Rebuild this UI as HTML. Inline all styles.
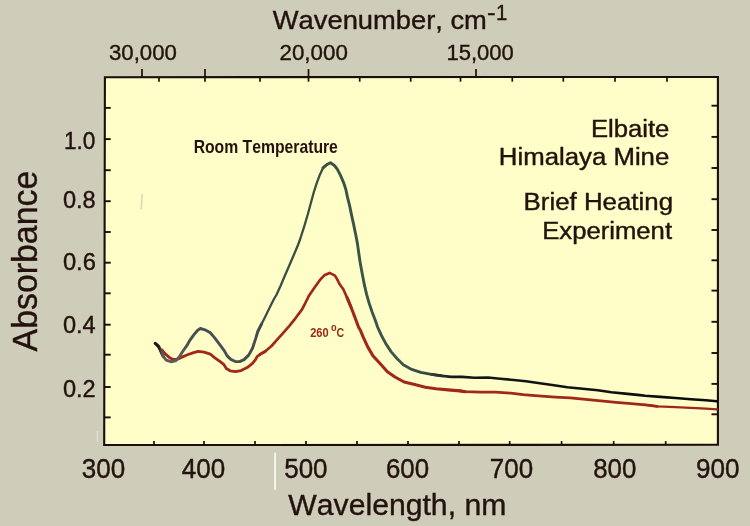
<!DOCTYPE html>
<html lang="en"><head><meta charset="utf-8"><title>Elbaite, Himalaya Mine - Brief Heating Experiment</title>
<style>
html,body{margin:0;padding:0;background:#cecdba;}
body{width:750px;height:526px;overflow:hidden;}
svg{display:block;}
text{font-family:"Liberation Sans",Arial,Helvetica,sans-serif;fill:#23120d;stroke:#23120d;stroke-width:0.4px;font-kerning:none;}
.b{font-weight:bold;stroke:none;}
</style></head><body>
<svg width="750" height="526" viewBox="0 0 750 526">
<rect x="0" y="0" width="750" height="526" fill="#cecdba"/>
<polygon points="104.9,77.2 717.9,77.0 717.9,444.8 104.2,445.0" fill="#fffec8" stroke="#190e08" stroke-width="2.1" stroke-linejoin="miter"/>
<g stroke="#190e08" stroke-width="1.7" fill="none">
<line x1="154" y1="444.9" x2="154" y2="441.1"/>
<line x1="204" y1="444.9" x2="204" y2="441.1"/>
<line x1="255" y1="444.9" x2="255" y2="441.1"/>
<line x1="306" y1="444.9" x2="306" y2="441.1"/>
<line x1="357" y1="444.9" x2="357" y2="441.1"/>
<line x1="408" y1="444.9" x2="408" y2="441.1"/>
<line x1="459" y1="444.9" x2="459" y2="441.1"/>
<line x1="509.7" y1="444.9" x2="509.7" y2="441.1"/>
<line x1="561.6" y1="444.9" x2="561.6" y2="441.1"/>
<line x1="613.7" y1="444.9" x2="613.7" y2="441.1"/>
<line x1="665.7" y1="444.9" x2="665.7" y2="441.1"/>
<line x1="159" y1="77.1" x2="159" y2="81.7"/>
<line x1="205" y1="77.1" x2="205" y2="81.7"/>
<line x1="260" y1="77.1" x2="260" y2="81.7"/>
<line x1="308.5" y1="77.1" x2="308.5" y2="81.7"/>
<line x1="359.7" y1="77.1" x2="359.7" y2="81.7"/>
<line x1="410.7" y1="77.1" x2="410.7" y2="81.7"/>
<line x1="460.5" y1="77.1" x2="460.5" y2="81.7"/>
<line x1="512.3" y1="77.1" x2="512.3" y2="81.7"/>
<line x1="563.3" y1="77.1" x2="563.3" y2="81.7"/>
<line x1="615" y1="77.1" x2="615" y2="81.7"/>
<line x1="667" y1="77.1" x2="667" y2="81.7"/>
<line x1="142" y1="77.1" x2="142" y2="69.1"/>
<line x1="205" y1="77.1" x2="205" y2="69.1"/>
<line x1="308.5" y1="77.1" x2="308.5" y2="69.1"/>
<line x1="476" y1="77.1" x2="476" y2="69.1"/>
<line x1="104.6" y1="107.9" x2="110.7" y2="107.9" stroke-width="1.9"/>
<line x1="104.6" y1="139.1" x2="110.7" y2="139.1" stroke-width="1.9"/>
<line x1="104.6" y1="170.2" x2="110.7" y2="170.2" stroke-width="1.9"/>
<line x1="104.6" y1="201.2" x2="110.7" y2="201.2" stroke-width="1.9"/>
<line x1="104.6" y1="232" x2="110.7" y2="232" stroke-width="1.9"/>
<line x1="104.6" y1="262.7" x2="110.7" y2="262.7" stroke-width="1.9"/>
<line x1="104.6" y1="293.3" x2="110.7" y2="293.3" stroke-width="1.9"/>
<line x1="104.6" y1="324.7" x2="110.7" y2="324.7" stroke-width="1.9"/>
<line x1="104.6" y1="354.7" x2="110.7" y2="354.7" stroke-width="1.9"/>
<line x1="104.6" y1="387" x2="110.7" y2="387" stroke-width="1.9"/>
<line x1="104.6" y1="417.4" x2="110.7" y2="417.4" stroke-width="1.9"/>
<line x1="717.9" y1="105.7" x2="711.5" y2="105.7" stroke-width="1.9"/>
<line x1="717.9" y1="136.9" x2="711.5" y2="136.9" stroke-width="1.9"/>
<line x1="717.9" y1="168" x2="711.5" y2="168" stroke-width="1.9"/>
<line x1="717.9" y1="199.2" x2="711.5" y2="199.2" stroke-width="1.9"/>
<line x1="717.9" y1="230" x2="711.5" y2="230" stroke-width="1.9"/>
<line x1="717.9" y1="260.3" x2="711.5" y2="260.3" stroke-width="1.9"/>
<line x1="717.9" y1="290.6" x2="711.5" y2="290.6" stroke-width="1.9"/>
<line x1="717.9" y1="321.8" x2="711.5" y2="321.8" stroke-width="1.9"/>
<line x1="717.9" y1="353" x2="711.5" y2="353" stroke-width="1.9"/>
<line x1="717.9" y1="383.9" x2="711.5" y2="383.9" stroke-width="1.9"/>
<line x1="717.9" y1="414.3" x2="711.5" y2="414.3" stroke-width="1.9"/>
</g>
<defs><linearGradient id="kg" gradientUnits="userSpaceOnUse" x1="150" y1="0" x2="720" y2="0">
<stop offset="0.0070" stop-color="#161616"/>
<stop offset="0.0158" stop-color="#1c1c1c"/>
<stop offset="0.0211" stop-color="#5a5b5a"/>
<stop offset="0.0526" stop-color="#595c5c"/>
<stop offset="0.0702" stop-color="#464d50"/>
<stop offset="0.1404" stop-color="#4a5154"/>
<stop offset="0.1965" stop-color="#3e4b4d"/>
<stop offset="0.2632" stop-color="#37503f"/>
<stop offset="0.3684" stop-color="#3a5446"/>
<stop offset="0.4386" stop-color="#40564e"/>
<stop offset="0.4912" stop-color="#364340"/>
<stop offset="0.5351" stop-color="#151817"/>
<stop offset="1.0000" stop-color="#0b0a0a"/>
</linearGradient></defs>
<path d="M161.7,349.8 L165.5,354.1 L169.3,357.4 L173.1,359.4 L176.9,359.4 L181.4,357.4 L187.5,354.8 L193.6,352.6 L198.2,351.3 L204.2,352.2 L210.3,354.1 L214.9,357.9 L220.2,361.7 L224.0,364.7 L226.3,368.5 L230.1,370.8 L235.4,371.7 L241.1,370.6 L247.2,367.6 L252.5,363.4 L255.5,359.6 L257.1,356.6 L260.1,354.3 L265.4,351.3" fill="none" stroke="#a02819" stroke-width="2.8" stroke-linejoin="round" stroke-linecap="round"/>
<path d="M260.1,354.3 L265.4,351.3 L271.5,346.0 L277.6,339.1 L283.7,332.3 L289.8,325.4 L295.8,317.8 L301.9,309.6 L304.6,304.5 L309.1,295.4 L314.4,287.8 L319.8,280.2 L324.3,275.3 L329.6,272.9 L335.0,275.6 L337.2,279.4 L339.5,284.0 L343.3,289.3 L347.1,297.7 L350.9,306.8" fill="none" stroke="#a02819" stroke-width="2.7" stroke-linejoin="round" stroke-linecap="round"/>
<path d="M347.1,297.7 L350.9,306.8 L354.7,316.7 L358.5,327.0 L360.5,330.5 L363.0,336.7 L367.6,346.6 L372.9,355.7 L379.8,363.3 L387.4,371.7 L395.0,377.0 L404.1,382.0 L414.7,384.6 L425.3,387.3 L436.0,388.8 L448.1,389.9 L460.0,390.9 L465.2,391.7" fill="none" stroke="#a02819" stroke-width="3.1" stroke-linejoin="round" stroke-linecap="round"/>
<path d="M460.0,390.9 L465.2,391.7 L480.4,392.1 L495.6,392.1 L510.8,393.2 L523.0,394.7 L535.1,395.7 L555.2,397.1 L570.4,397.9 L585.6,399.4 L600.8,400.9 L616.0,402.4 L631.2,403.7 L645.2,404.8 L657.4,406.4" fill="none" stroke="#a02819" stroke-width="2.7" stroke-linejoin="round" stroke-linecap="round"/>
<path d="M645.2,404.8 L657.4,406.4 L675.6,407.1 L690.8,407.9 L706.0,408.6 L716.9,409.4" fill="none" stroke="#a02819" stroke-width="2.1" stroke-linejoin="round" stroke-linecap="round"/>
<path d="M155.3,343.4 L158.6,346.5 L160.9,351.0 L163.2,356.4" fill="none" stroke="url(#kg)" stroke-width="3.3" stroke-linejoin="round" stroke-linecap="round"/>
<path d="M160.9,351.0 L163.2,356.4 L166.2,360.2 L170.8,361.7 L175.4,360.9 L179.2,357.1 L183.0,351.0 L186.8,345.7 L189.8,340.4 L193.6,335.1 L197.4,330.5 L200.4,328.5 L205.0,329.8 L210.3,332.8 L214.9,338.1 L219.4,344.2 L224.0,350.3 L227.0,355.6 L230.8,359.4 L235.4,361.5 L239.6,361.6 L244.1,359.6 L248.7,355.1 L252.5,348.2 L255.5,339.1 L257.8,331.5 L261.6,323.9" fill="none" stroke="url(#kg)" stroke-width="2.9" stroke-linejoin="round" stroke-linecap="round"/>
<path d="M257.8,331.5 L261.6,323.9 L266.2,314.8 L270.7,305.6 L274.5,298.0 L276.4,295.0 L280.5,286.0 L284.5,276.5 L289.5,265.0 L294.0,254.5 L298.0,245.0 L300.2,239.0 L304.0,227.2 L307.8,214.3 L310.8,203.2 L313.9,191.9 L316.9,182.7 L320.0,174.4 L323.0,167.9 L326.8,164.6" fill="none" stroke="url(#kg)" stroke-width="2.3" stroke-linejoin="round" stroke-linecap="round"/>
<path d="M323.0,167.9 L326.8,164.6 L330.4,162.8 L334.4,165.5 L337.4,169.4 L340.5,175.4 L343.5,182.3 L345.8,189.2 L347.3,196.4 L349.6,205.6 L351.4,214.4 L353.4,223.4 L354.9,230.8 L356.2,237.0 L357.5,244.1 L359.0,254.8 L360.5,264.6 L362.4,274.5 L364.3,284.4 L366.6,294.3 L369.2,303.4 L372.2,312.3 L375.2,320.0 L377.5,326.8 L381.3,335.2 L385.8,343.6 L391.2,351.9 L397.2,358.8 L403.3,364.8 L411.7,369.4 L420.8,372.4 L431.4,374.4 L442.1,375.9" fill="none" stroke="url(#kg)" stroke-width="2.9" stroke-linejoin="round" stroke-linecap="round"/>
<path d="M431.4,374.4 L442.1,375.9 L451.2,376.9 L462.2,376.9 L474.3,377.7 L488.0,377.5 L500.2,378.8 L513.8,380.0 L526.0,381.3 L538.1,383.0 L552.2,385.0 L567.4,387.2 L582.6,388.8 L597.8,390.3 L611.4,392.2 L625.1,393.6 L640.0,395.1 L645.2,395.7 L660.4,396.9 L675.6,398.0 L690.8,399.2 L706.0,400.3 L716.9,401.3" fill="none" stroke="url(#kg)" stroke-width="2.6" stroke-linejoin="round" stroke-linecap="round"/>
<line x1="275.1" y1="452.5" x2="275.1" y2="489.7" stroke="#faf9f0" stroke-width="1.8"/>
<line x1="142.2" y1="194.5" x2="141.2" y2="209" stroke="#dddbbf" stroke-width="1.7" stroke-linecap="round"/>
<line x1="97.3" y1="431" x2="97.3" y2="441.5" stroke="#e6e5d6" stroke-width="1"/>
<text><tspan x="272.85" y="29.1" font-size="26.43" textLength="214.01" lengthAdjust="spacingAndGlyphs">Wavenumber, cm</tspan><tspan x="487.0" y="20.4" font-size="22.43" textLength="8.56" lengthAdjust="spacingAndGlyphs">-</tspan><tspan x="496.05" y="20.4" font-size="22.43" textLength="11.3" lengthAdjust="spacingAndGlyphs">1</tspan></text>
<text x="108.95" y="59.58" font-size="22.88" textLength="67.92" lengthAdjust="spacingAndGlyphs">30,000</text>
<text x="279.55" y="59.58" font-size="22.88" textLength="68.24" lengthAdjust="spacingAndGlyphs">20,000</text>
<text x="446.55" y="59.58" font-size="22.88" textLength="67.27" lengthAdjust="spacingAndGlyphs">15,000</text>
<text x="64.0" y="148.57" font-size="23.45" textLength="31.45" lengthAdjust="spacingAndGlyphs">1.0</text>
<text x="62.9" y="207.57" font-size="23.45" textLength="32.77" lengthAdjust="spacingAndGlyphs">0.8</text>
<text x="62.9" y="269.87" font-size="23.45" textLength="32.99" lengthAdjust="spacingAndGlyphs">0.6</text>
<text x="62.9" y="333.37" font-size="23.59" textLength="32.79" lengthAdjust="spacingAndGlyphs">0.4</text>
<text x="62.9" y="396.97" font-size="23.45" textLength="32.79" lengthAdjust="spacingAndGlyphs">0.2</text>
<text x="81.75" y="477.53" font-size="27.26" textLength="43.36" lengthAdjust="spacingAndGlyphs">300</text>
<text x="181.7" y="477.53" font-size="27.26" textLength="43.44" lengthAdjust="spacingAndGlyphs">400</text>
<text x="284.2" y="477.53" font-size="27.26" textLength="43.33" lengthAdjust="spacingAndGlyphs">500</text>
<text x="386.0" y="477.53" font-size="27.26" textLength="43.12" lengthAdjust="spacingAndGlyphs">600</text>
<text x="489.8" y="477.53" font-size="27.26" textLength="43.25" lengthAdjust="spacingAndGlyphs">700</text>
<text x="593.2" y="477.53" font-size="27.26" textLength="43.12" lengthAdjust="spacingAndGlyphs">800</text>
<text x="695.95" y="477.53" font-size="27.26" textLength="43.53" lengthAdjust="spacingAndGlyphs">900</text>
<text x="288.35" y="515.3" font-size="29.86" textLength="217.96" lengthAdjust="spacingAndGlyphs">Wavelength, nm</text>
<text x="0" y="0" font-size="35.27" textLength="180.71" lengthAdjust="spacingAndGlyphs" transform="translate(36.6,351.45) rotate(-90)">Absorbance</text>
<text x="193.65" y="152.9" font-size="19.0" textLength="144.22" lengthAdjust="spacingAndGlyphs" class="b">Room Temperature</text>
<text x="590.9" y="136.6" font-size="23.0" textLength="78.45" lengthAdjust="spacingAndGlyphs">Elbaite</text>
<text x="498.85" y="165.0" font-size="23.0" textLength="170.45" lengthAdjust="spacingAndGlyphs">Himalaya Mine</text>
<text x="523.55" y="210.3" font-size="23.14" textLength="149.47" lengthAdjust="spacingAndGlyphs">Brief Heating</text>
<text x="542.2" y="239.0" font-size="23.0" textLength="129.83" lengthAdjust="spacingAndGlyphs">Experiment</text>
<text class="b" style="fill:#9a2916"><tspan x="310.2" y="337.47" font-size="13.7" textLength="18.45" lengthAdjust="spacingAndGlyphs">260</tspan><tspan x="330.9" y="331.3" font-size="10.59" textLength="5.66" lengthAdjust="spacingAndGlyphs">o</tspan><tspan x="336.4" y="337.47" font-size="13.7" textLength="7.62" lengthAdjust="spacingAndGlyphs">C</tspan></text>
</svg></body></html>
